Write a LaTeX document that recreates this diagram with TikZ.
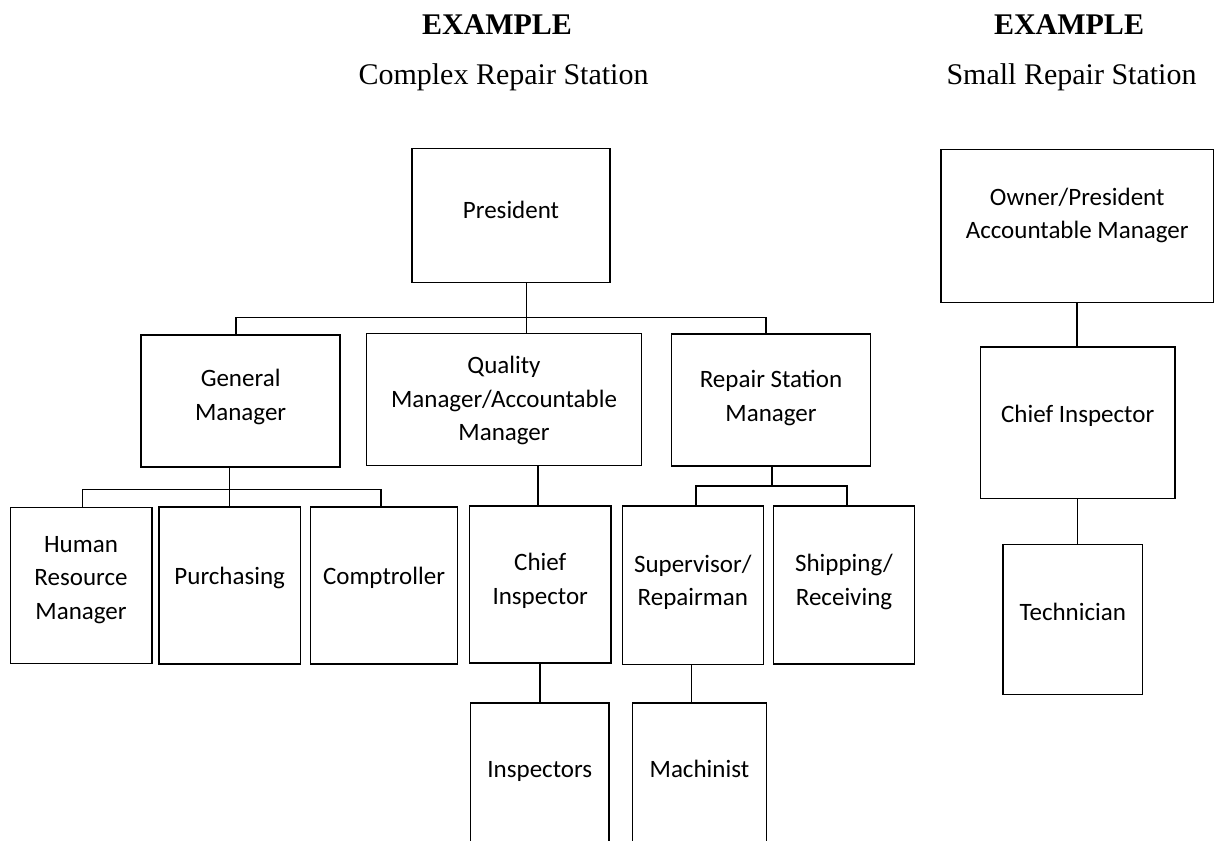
\documentclass[tikz,border=0pt]{standalone}
\usepackage{fontspec}
\setmainfont{Liberation Serif}
\newfontfamily\orgfont{Carlito}
\usetikzlibrary{calc,positioning}
\tikzset{
  orgbox/.style={draw,line width=1.5pt,align=center,inner sep=2pt,
    font=\orgfont\fontsize{25}{33.5}\selectfont,text depth=12pt},
  orgline/.style={line width=1.5pt},
  headline/.style={anchor=base,font=\bfseries\fontsize{30}{36}\selectfont},
  subhead/.style={anchor=base,font=\fontsize{30}{36}\selectfont}
}
\begin{document}
\begin{tikzpicture}[x=1pt,y=-1pt]
  \useasboundingbox (0,0) rectangle (1214,840);
  % titles
  \node [headline] (cplxhead) at (497,34.3) {EXAMPLE};
  \node [subhead] (cplxsub) at (503.5,85) {Complex Repair Station};
  \node [headline] (smallhead) at (1069,34.3) {EXAMPLE};
  \node [subhead] (smallsub) at (1071.5,85) {Small Repair Station};
  % complex station boxes
  \node [orgbox,minimum width=198pt,minimum height=134pt,text depth=11pt]
    (pres) at (511,215.3) {President};
  \node [orgbox,minimum width=199pt,minimum height=132pt,text depth=13pt]
    (gm) at (240.6,401.2) {General\\Manager};
  \node [orgbox,minimum width=275pt,minimum height=132pt,text depth=2pt]
    (qm) at (504,399.7) {Quality\\Manager/Accountable\\Manager};
  \node [orgbox,minimum width=199pt,minimum height=132pt,text depth=8pt]
    (rsm) at (771,399.8) {Repair Station\\Manager};
  \node [orgbox,minimum width=141.5pt,minimum height=156pt,text depth=15pt]
    (hr) at (81,585.4) {Human\\Resource\\Manager};
  \node [orgbox,minimum width=141.5pt,minimum height=157pt,text depth=20pt]
    (pur) at (229.7,585.6) {Purchasing};
  \node [orgbox,minimum width=147pt,minimum height=157pt,text depth=20pt]
    (comp) at (384,585.5) {Comptroller};
  \node [orgbox,minimum width=141.6pt,minimum height=157pt,text depth=11pt]
    (ci) at (540.2,584.5) {Chief\\Inspector};
  \node [orgbox,minimum width=141pt,minimum height=158.5pt,text depth=10pt]
    (sup) at (692.8,585.2) {Supervisor/\\Repairman};
  \node [orgbox,minimum width=141pt,minimum height=158pt,text depth=10pt]
    (ship) at (844,585) {Shipping/\\Receiving};
  \node [orgbox,minimum width=138.5pt,minimum height=142pt,text depth=10pt]
    (insp) at (539.8,774) {Inspectors};
  \node [orgbox,minimum width=134.2pt,minimum height=142pt,text depth=10pt]
    (mach) at (699.4,774) {Machinist};
  % small station boxes
  \node [orgbox,minimum width=272.3pt,minimum height=153pt,text depth=26pt]
    (own) at (1077.2,226.2) {Owner/President\\Accountable Manager};
  \node [orgbox,minimum width=194.2pt,minimum height=151.7pt,text depth=18pt]
    (sci) at (1077.7,422.8) {Chief Inspector};
  \node [orgbox,minimum width=139.8pt,minimum height=150pt,text depth=14pt]
    (tech) at (1072.8,619.3) {Technician};
  % bus points
  \coordinate (topbus) at ($(pres.south)+(15.7,34.2)$);
  \coordinate (gmbus) at ($(gm.south)+(-11.3,21.4)$);
  \coordinate (rsmbus) at ($(rsm.south)+(1,19.3)$);
  % president links
  \draw [orgline]
    ([xshift=15.7pt]pres.south)
    -- ([xshift=15.7pt]pres.south |- qm.north)
  ;
  \draw [orgline]
    ([xshift=-4.6pt]gm.north)
    |- (topbus)
    -| ([xshift=-5pt]rsm.north)
  ;
  % general manager links
  \draw [orgline]
    ([xshift=-11.3pt]gm.south)
    -- ([xshift=-11.3pt]gm.south |- pur.north)
  ;
  \draw [orgline]
    ([xshift=1.6pt]hr.north)
    |- (gmbus)
    -| ([xshift=-2.8pt]comp.north)
  ;
  % quality links
  \draw [orgline]
    ([xshift=-2pt]ci.north |- qm.south)
    -- ([xshift=-2pt]ci.north)
  ;
  \draw [orgline]
    (ci.south)
    -- (ci.south |- insp.north)
  ;
  % repair station links
  \draw [orgline]
    ([xshift=1pt]rsm.south)
    -- (rsmbus)
  ;
  \draw [orgline]
    ([xshift=3pt]sup.north)
    |- (rsmbus)
    -| ([xshift=3pt]ship.north)
  ;
  \draw [orgline]
    ([xshift=-1.3pt]sup.south)
    -- ([xshift=-1.3pt]sup.south |- mach.north)
  ;
  % small station links
  \draw [orgline]
    (own.south)
    -- (own.south |- sci.north)
  ;
  \draw [orgline]
    (sci.south)
    -- (sci.south |- tech.north)
  ;
\end{tikzpicture}
\end{document}
